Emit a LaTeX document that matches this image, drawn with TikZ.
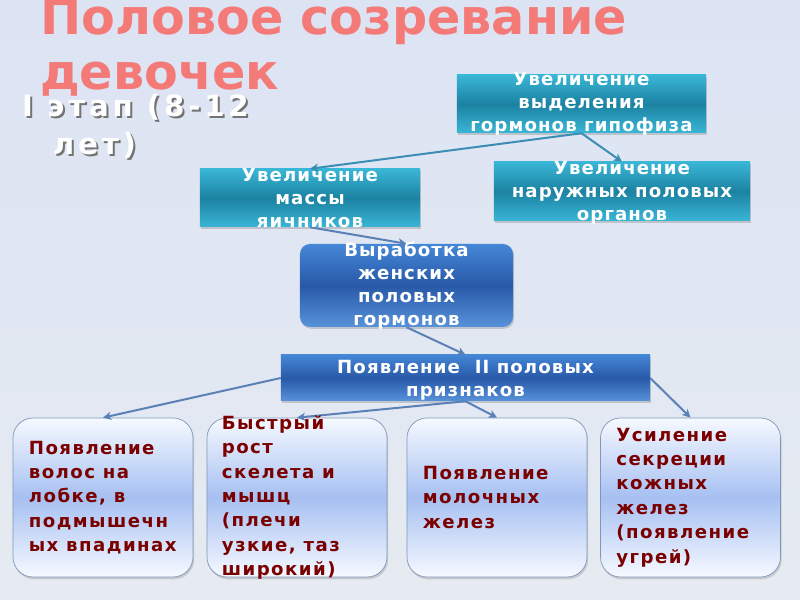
\documentclass[tikz,border=0pt]{standalone}
\usepackage{fontspec}
\setmainfont{DejaVu Sans}
\usetikzlibrary{positioning,shadows,arrows.meta}

\definecolor{bgtop}{HTML}{DCE3F3}
\definecolor{bgmid}{HTML}{A2B9E4}
\definecolor{bgbot}{HTML}{E6EBF1}
\definecolor{titlered}{HTML}{F47A78}
\definecolor{tealtop}{HTML}{3AB6D6}
\definecolor{tealmid}{HTML}{1C82A2}
\definecolor{bluetop}{HTML}{4586D6}
\definecolor{bluemid}{HTML}{2859A8}
\definecolor{paletop}{HTML}{F6F9FF}
\definecolor{palemid}{HTML}{A6C0F2}
\definecolor{paleline}{HTML}{7F97BA}
\definecolor{darkred}{HTML}{7A0000}
\definecolor{tealline}{HTML}{3B8DB4}
\definecolor{blueline}{HTML}{5A80B6}

\tikzset{
  tealbox/.style={top color=tealtop, bottom color=tealtop, middle color=tealmid,
    drop shadow={shadow xshift=1pt, shadow yshift=-1.5pt, opacity=.35}},
  bluebox/.style={top color=bluetop, bottom color=bluetop!90, middle color=bluemid,
    drop shadow={shadow xshift=1pt, shadow yshift=-1.5pt, opacity=.35}},
  palebox/.style={draw=paleline, line width=.6pt, rounded corners=6mm,
    top color=paletop, bottom color=paletop, middle color=palemid,
    minimum width=54mm, minimum height=47.7mm,
    drop shadow={shadow xshift=1pt, shadow yshift=-2pt, opacity=.3}},
  boxtext/.style={text=white, align=center, inner sep=0pt,
    font=\fontsize{15.5}{19.5}\selectfont\bfseries\addfontfeatures{LetterSpace=6}},
  redtext/.style={text=darkred, align=left, inner sep=0pt,
    font=\fontsize{15.5}{20.8}\selectfont\bfseries\addfontfeatures{LetterSpace=8}},
  stagetext/.style={anchor=north west, align=left, inner sep=0pt,
    font=\fontsize{25}{32.4}\selectfont\bfseries\addfontfeatures{LetterSpace=13}},
  tealarrow/.style={->, draw=tealline, line width=1.7pt},
  bluearrow/.style={->, draw=blueline, line width=1.7pt}
}

\begin{document}
\begin{tikzpicture}[x=0.03cm,y=-0.03cm,>={Stealth[length=7pt,width=7pt,inset=2pt]},line join=round]
  % Hintergrund
  \shade [top color=bgtop, middle color=bgmid, bottom color=bgbot] (0,0) rectangle (800,600);
  \useasboundingbox (0,0) rectangle (800,600);
  % Ueberschrift
  \node [anchor=north west, align=left, inner sep=0pt, text=titlered,
    font=\fontsize{42}{47}\selectfont\bfseries]
    (title) at (40,-2) {Половое созревание\\девочек};
  \node [stagetext, text=black!55] (stageshadow) at (24,96) {I этап (8-12\\\hspace*{1.05em}лет)};
  \node [stagetext, text=white] (stage) at (22,94) {I этап (8-12\\\hspace*{1.05em}лет)};
  % Kaesten
  \node [tealbox, minimum width=74.7mm, minimum height=17.4mm] (hyp) at (581.5,104) {};
  \node [tealbox, minimum width=66mm, minimum height=17.4mm] (ovary) at (310,198) {};
  \node [tealbox, minimum width=76.8mm, minimum height=17.7mm] (ext) at (622,191.5) {};
  \node [bluebox, rounded corners=3mm, minimum width=63.9mm, minimum height=24.9mm] (horm) at (406.5,285.5) {};
  \node [bluebox, minimum width=110.7mm, minimum height=13.8mm] (signs) at (465.5,378) {};
  \node [palebox] (hair) at (103,497.5) {};
  \node [palebox] (growth) at (297,497.5) {};
  \node [palebox] (breast) at (497,497.5) {};
  \node [palebox] (skin) at (690.5,497.5) {};
  % Pfeile
  \draw [tealarrow] (hyp.south) -- (ovary.north);
  \draw [tealarrow] (hyp.south) -- (ext.north);
  \draw [bluearrow] (ovary.south) -- (horm.north);
  \draw [bluearrow] (horm.south) -- (signs.north);
  \draw [bluearrow] (signs.west) -- (hair.north);
  \draw [bluearrow] (signs.south) -- (growth.north);
  \draw [bluearrow] (signs.south) -- (breast.north);
  \draw [bluearrow] (signs.east) -- (skin.north);
  % Beschriftungen
  \node [boxtext] (hyptext) at (hyp) {Увеличение\\выделения\\гормонов гипофиза};
  \node [boxtext] (ovarytext) at (ovary) {Увеличение\\массы\\яичников};
  \node [boxtext] (exttext) at (622,193) {Увеличение\\наружных половых\\органов};
  \node [boxtext] (hormtext) at (horm) {Выработка\\женских\\половых\\гормонов};
  \node [boxtext] (signstext) at (465.5,380) {Появление~~II половых\\признаков};
  \node [redtext, right=4.8mm of hair.west] (hairtext) {Появление\\волос на\\лобке, в\\подмышечн\\ых впадинах};
  \node [redtext, right=4.5mm of growth.west] (growthtext) {Быстрый\\рост\\скелета и\\мышц\\(плечи\\узкие, таз\\широкий)};
  \node [redtext, right=4.8mm of breast.west] (breasttext) {Появление\\молочных\\желез};
  \node [redtext, right=4.8mm of skin.west] (skintext) {Усиление\\секреции\\кожных\\желез\\(появление\\угрей)};
\end{tikzpicture}
\end{document}
